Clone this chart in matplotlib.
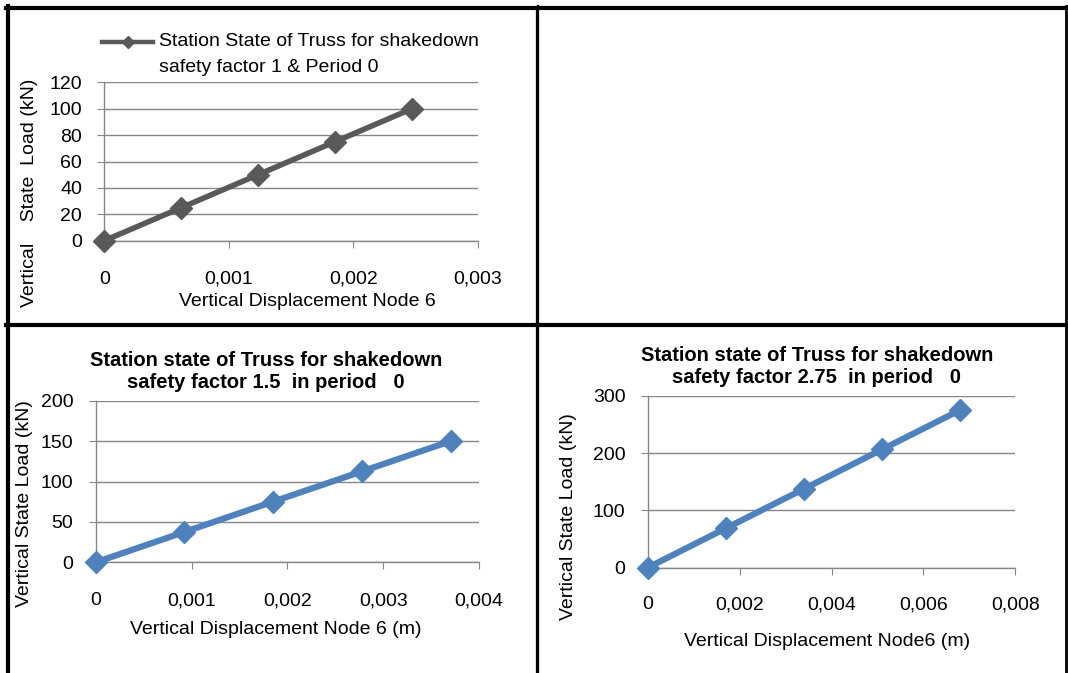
import matplotlib
matplotlib.use("Agg")
import matplotlib.pyplot as plt
from matplotlib.lines import Line2D
from matplotlib.ticker import FixedLocator

plt.rcParams["font.family"] = ["Liberation Sans", "DejaVu Sans"]

W, H = 1068, 673

# === Data ===
# safety factor 1, period 0
disp_sf1 = [0, 0.000618, 0.001236, 0.001854, 0.002472]
load_sf1 = [0, 25, 50, 75, 100]
# safety factor 1.5, period 0
disp_sf15 = [0, 0.000925, 0.00185, 0.002778, 0.003705]
load_sf15 = [0, 37.5, 75, 112.5, 150]
# safety factor 2.75, period 0
disp_sf275 = [0, 0.0017, 0.0034, 0.0051, 0.0068]
load_sf275 = [0, 68.75, 137.5, 206.25, 275]

xticks_1 = [0, 0.001, 0.002, 0.003]
yticks_1 = [0, 20, 40, 60, 80, 100, 120]
xticks_2 = [0, 0.001, 0.002, 0.003, 0.004]
yticks_2 = [0, 50, 100, 150, 200]
xticks_3 = [0, 0.002, 0.004, 0.006, 0.008]
yticks_3 = [0, 100, 200, 300]

GRAY = "#595959"
BLUE = "#4f81bd"
AXGRAY = "#868686"
FS = 14


def comma(v):
    return "0" if v == 0 else f"{v:.3f}".replace(".", ",")


def make_axes(fig, left, right, top, bottom):
    # pixel box -> figure fraction
    return fig.add_axes([left / W, 1 - bottom / H, (right - left) / W, (bottom - top) / H])


def px_to_axes(ax, px, py):
    # figure pixel (y from top) -> axes fraction, for label placement
    l, b, w, h = ax.get_position().bounds
    return ((px / W) - l) / w, ((1 - py / H) - b) / h


def style(ax, xt, yt, xpad=16.5):
    ax.set_xlim(xt[0], xt[-1])
    ax.set_ylim(yt[0], yt[-1])
    ax.xaxis.set_major_locator(FixedLocator(xt))
    ax.yaxis.set_major_locator(FixedLocator(yt))
    ax.set_xticklabels([comma(v) for v in xt])
    ax.set_yticklabels([str(v) for v in yt])
    for s in ("top", "right"):
        ax.spines[s].set_visible(False)
    for s in ("left", "bottom"):
        ax.spines[s].set_color(AXGRAY)
        ax.spines[s].set_linewidth(1.0)
    ax.grid(axis="y", color=AXGRAY, linewidth=1.0)
    ax.set_axisbelow(True)
    ax.tick_params(axis="x", direction="out", length=5, color=AXGRAY, pad=xpad, labelsize=FS)
    ax.tick_params(axis="y", direction="out", length=5, color=AXGRAY, pad=11, labelsize=FS)


def labels(ax, xl, xpos, yl, ypos):
    ax.set_xlabel(xl, fontsize=FS, va="center")
    ax.xaxis.set_label_coords(*px_to_axes(ax, *xpos))
    ax.set_ylabel(yl, fontsize=FS, va="center")
    ax.yaxis.set_label_coords(*px_to_axes(ax, *ypos))


fig = plt.figure(figsize=(W / 100, H / 100), dpi=100)
fig.patch.set_facecolor("white")

# --- top left ---
ax1 = make_axes(fig, 104.3, 477.7, 82.3, 240.7)
style(ax1, xticks_1, yticks_1, xpad=16.5)
ax1.plot(disp_sf1, load_sf1, color=GRAY, lw=4.0, marker="D", ms=11, clip_on=False, zorder=3)
labels(ax1, "Vertical Displacement Node 6", (307, 302),
       "Vertical    State  Load (kN)", (29.5, 193))
leg_y = 1 - 42 / H
fig.add_artist(Line2D([102 / W, 127.5 / W, 153 / W], [leg_y] * 3, color=GRAY, lw=3.2,
                      marker="D", ms=6, markevery=[1]))
fig.text(159 / W, 1 - 42 / H, "Station State of Truss for shakedown", fontsize=FS, va="center")
fig.text(159 / W, 1 - 67 / H, "safety factor 1 & Period 0", fontsize=FS, va="center")

# --- bottom left ---
ax2 = make_axes(fig, 95.7, 479, 400.7, 562.3)
style(ax2, xticks_2, yticks_2, xpad=16.5)
ax2.plot(disp_sf15, load_sf15, color=BLUE, lw=4.5, marker="D", ms=11, clip_on=False, zorder=3)
labels(ax2, "Vertical Displacement Node 6 (m)", (276, 630),
       "Vertical State Load (kN)", (25, 503.5))
fig.text(266 / W, 1 - 372 / H, "Station state of Truss for shakedown\nsafety factor 1.5  in period   0",
         fontsize=14.5, fontweight="bold", ha="center", va="center", linespacing=1.2)

# --- bottom right ---
ax3 = make_axes(fig, 647.7, 1015.3, 395.7, 567.7)
style(ax3, xticks_3, yticks_3, xpad=15.5)
ax3.plot(disp_sf275, load_sf275, color=BLUE, lw=4.5, marker="D", ms=11, clip_on=False, zorder=3)
labels(ax3, "Vertical Displacement Node6 (m)", (827, 641.7),
       "Vertical State Load (kN)", (568.5, 516.7))
fig.text(817 / W, 1 - 366.5 / H, "Station state of Truss for shakedown\nsafety factor 2.75  in period   0",
         fontsize=14.5, fontweight="bold", ha="center", va="center", linespacing=1.2)

# === table borders ===
def hline(y, x0, x1, lw):
    fig.add_artist(Line2D([x0 / W, x1 / W], [1 - y / H] * 2, color="black", lw=lw))

def vline(x, y0, y1, lw):
    fig.add_artist(Line2D([x / W] * 2, [1 - y0 / H, 1 - y1 / H], color="black", lw=lw))

hline(8, 6, 1067, 3.0)
hline(324.7, 6, 1067, 3.0)
vline(8, 6, 673, 3.0)
vline(1066, 6, 673, 2.0)
vline(535.8, 6, 673, 0.9)
vline(538.3, 6, 673, 1.6)

fig.savefig("out.png", dpi=100)
